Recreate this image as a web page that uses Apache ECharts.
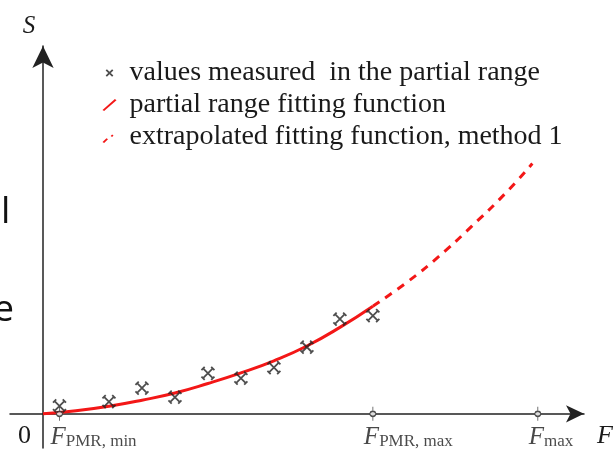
<!DOCTYPE html>
<html>
<head>
<meta charset="utf-8">
<script src="https://cdn.jsdelivr.net/npm/echarts@6/dist/echarts.min.js"></script>
<style>
  html, body { margin: 0; padding: 0; background: #fff; }
  #chart { width: 614px; height: 455px; }
</style>
</head>
<body>
<div id="chart"></div>
<script>
// measured points in the partial range (F, S)
const measuredF = [3, 12, 18, 24, 30, 36, 42, 48, 54, 60];
const measuredS = [2.1, 3.2, 6.8, 4.4, 10.7, 9.4, 12.2, 17.6, 25.0, 25.9];

// fitting function
const fitF = [0, 6, 12, 18, 24, 30, 36, 42, 48, 54, 60];
const fitS = [0, 0.8, 2.0, 3.6, 5.5, 8.0, 10.8, 14.0, 17.9, 22.8, 28.4];

// extrapolated part (method 1)
const extraF = [60, 66, 72, 78, 84, 89];
const extraS = [28.4, 34.5, 41.5, 49.5, 58.0, 66.0];

// marked positions on the F axis
const tickF = [3, 60, 90];
const tickSub = ['PMR, min', 'PMR, max', 'max'];

const legendNames = [
    'values measured  in the partial range',
    'partial range fitting function',
    'extrapolated fitting function, method 1'
];

const RED = '#f31717';
const INK = '#222';
const SERIF = '"Liberation Serif", "DejaVu Serif", serif';

const crossPath = 'path://M1.5,1.5 L10.5,10.5 M10.5,1.5 L1.5,10.5 M0,3 L3,0 M9,0 L12,3 M12,9 L9,12 M3,12 L0,9';
const tickPath = 'path://M3,0 L3,4.5 M3,9.5 L3,14 M3,4.5 A2.5,2.5 0 1 1 3,9.5 A2.5,2.5 0 1 1 3,4.5';

const chart = echarts.init(document.getElementById('chart'));

const option = {
    animation: false,
    backgroundColor: '#fff',
    grid: {left: 10, right: 30, top: 46, bottom: 7, outerBoundsMode: 'none'},
    legend: {
        orient: 'vertical',
        left: 96,
        top: 54,
        itemWidth: 14,
        itemHeight: 12,
        itemGap: 4,
        textStyle: {fontFamily: SERIF, fontSize: 28, lineHeight: 28, color: '#1a1a1a', padding: [0, 0, 0, 8]},
        data: [
            {name: legendNames[0], icon: 'path://M3,3 L10,10 M10,3 L3,10 M0,0 M13,13',
                itemStyle: {color: 'none', borderColor: INK, borderWidth: 1.8}},
            {name: legendNames[1], icon: 'path://M0,11 L1.6,12 L14,1.3 L12.4,0 Z',
                itemStyle: {color: RED, borderWidth: 0}},
            {name: legendNames[2], icon: 'path://M0,11 L1.6,12 L5.5,8.2 L4,7.2 Z M8.2,5 L9.6,6 L11,4.6 L9.6,3.6 Z M0,0 M14,0',
                itemStyle: {color: RED, borderWidth: 0}}
        ]
    },
    xAxis: {
        type: 'value',
        min: -6,
        max: 98.4,
        name: 'F',
        nameLocation: 'end',
        nameGap: 13,
        nameTextStyle: {fontFamily: SERIF, fontStyle: 'italic', fontSize: 26, color: '#1a1a1a',
            align: 'left', verticalAlign: 'top', padding: [9, 0, 0, 0]},
        splitLine: {show: false},
        axisTick: {show: false},
        axisLabel: {show: false},
        axisLine: {
            symbol: ['none', 'arrow'],
            symbolSize: [13, 18],
            lineStyle: {color: INK, width: 1.5}
        }
    },
    yAxis: {
        type: 'value',
        min: -9,
        max: 97,
        name: 'S',
        nameLocation: 'end',
        nameGap: 7,
        nameTextStyle: {fontFamily: SERIF, fontStyle: 'italic', fontSize: 25, color: '#1a1a1a',
            padding: [0, 28, 0, 0]},
        splitLine: {show: false},
        axisTick: {show: false},
        axisLabel: {show: false},
        axisLine: {
            symbol: ['none', 'arrow'],
            symbolSize: [16, 22],
            lineStyle: {color: INK, width: 1.5}
        }
    },
    series: [
        {
            name: legendNames[1],
            type: 'line',
            data: fitF.map((f, i) => [f, fitS[i]]),
            smooth: true,
            showSymbol: false,
            lineStyle: {color: RED, width: 3},
            itemStyle: {color: RED},
            z: 3
        },
        {
            name: legendNames[2],
            type: 'line',
            data: extraF.map((f, i) => [f, extraS[i]]),
            smooth: true,
            showSymbol: false,
            lineStyle: {color: RED, width: 3, type: [8, 7]},
            itemStyle: {color: RED},
            z: 3
        },
        {
            name: legendNames[0],
            type: 'scatter',
            data: measuredF.map((f, i) => [f, measuredS[i]]),
            symbol: crossPath,
            symbolSize: 13,
            itemStyle: {color: 'none', borderColor: INK, borderWidth: 1.8},
            z: 4
        },
        {
            name: 'ticks',
            type: 'scatter',
            data: tickF.map((f, i) => ({value: [f, 0], sub: tickSub[i]})),
            symbol: tickPath,
            symbolSize: [6, 14],
            itemStyle: {color: '#fff', borderColor: INK, borderWidth: 1.2},
            z: 5,
            label: {
                show: true,
                position: 'bottom',
                align: 'left',
                distance: 4,
                offset: [-9, 0],
                formatter: (p) => '{f|F}{s|' + tickSub[p.dataIndex] + '}',
                rich: {
                    f: {fontFamily: SERIF, fontStyle: 'italic', fontSize: 25, color: '#1a1a1a',
                        lineHeight: 24, verticalAlign: 'bottom'},
                    s: {fontFamily: SERIF, fontSize: 17, color: '#1a1a1a',
                        lineHeight: 8, verticalAlign: 'bottom'}
                }
            }
        }
    ],
    graphic: [
        {type: 'text', left: 18, top: 423, silent: true,
            style: {text: '0', fontFamily: SERIF, fontSize: 26, fill: '#1a1a1a'}},
        {type: 'text', left: 1, top: 194, silent: true,
            style: {text: 'l', fontFamily: '"Open Sans", sans-serif', fontSize: 37, fill: '#111'}},
        {type: 'text', right: 600, top: 292, silent: true,
            style: {text: 'e', fontFamily: '"Open Sans", sans-serif', fontSize: 37, fill: '#111'}}
    ]
};

chart.setOption(option);
</script>
</body>
</html>
